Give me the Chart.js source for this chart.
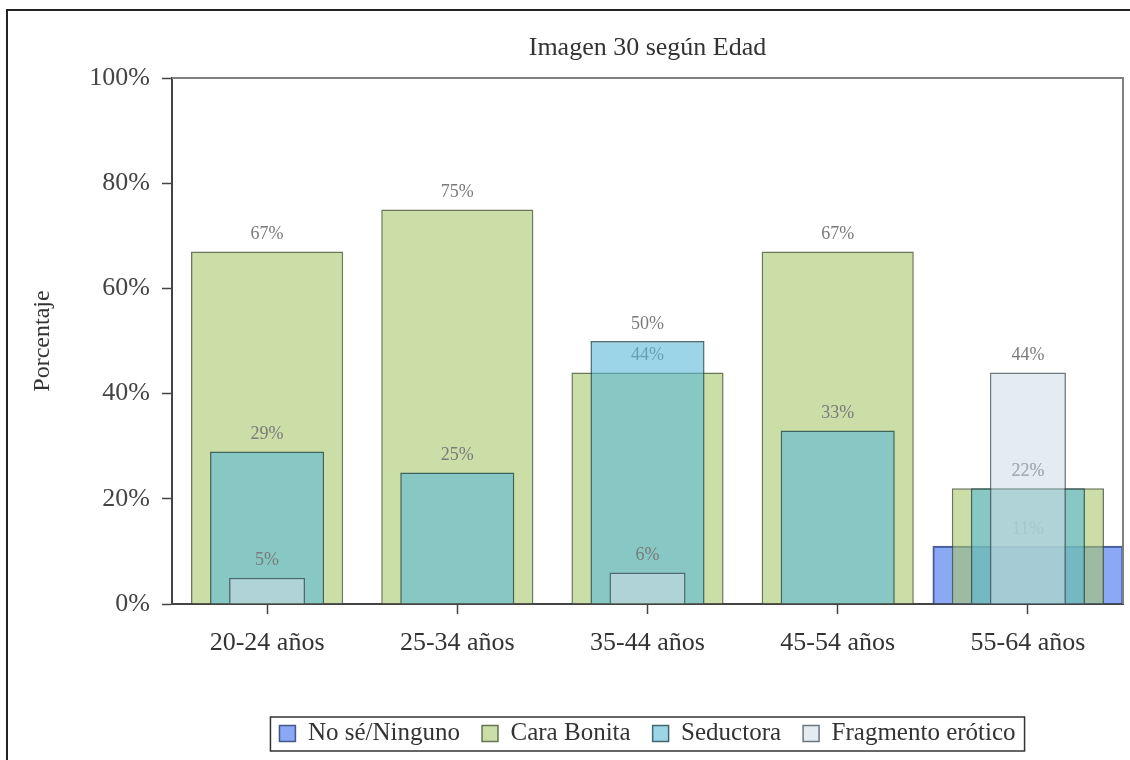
<!DOCTYPE html>
<html>
<head>
<meta charset="utf-8">
<title>Imagen 30 según Edad</title>
<script src="https://cdn.jsdelivr.net/npm/chart.js@4.4.0/dist/chart.umd.min.js"></script>
<style>
    html, body { margin: 0; padding: 0; background: #fff; }
    #wrap { width: 1130px; height: 760px; position: relative; }
</style>
</head>
<body>
<div id="wrap"><canvas id="edadChart"></canvas></div>
<script>
// Datos por grupo de edad (%)
const categorias = ['20-24 años', '25-34 años', '35-44 años', '45-54 años', '55-64 años'];
const noSe = [null, null, null, null, 11];
const caraBonita = [67, 75, 44, 67, 22];
const seductora = [29, 25, 50, 33, 22];
const fragmento = [5, null, 6, null, 44];
const ticksY = [0, 20, 40, 60, 80, 100];

const serif = "'Liberation Serif', 'Times New Roman', serif";

// Etiquetas de valor: se pintan justo despues de cada serie,
// asi las barras siguientes las tapan parcialmente
const etiquetas = {
    id: 'etiquetas',
    afterDatasetDraw(chart, args) {
        const ctx = chart.ctx;
        const ds = chart.data.datasets[args.index];
        ctx.save();
        ctx.font = '18px ' + serif;
        ctx.fillStyle = '#7a7a7a';
        ctx.textAlign = 'center';
        ctx.textBaseline = 'middle';
        args.meta.data.forEach((bar, i) => {
            const v = ds.data[i];
            if (v == null) return;
            ctx.fillText(v + '%', bar.x, bar.y - 17);
        });
        ctx.restore();
    }
};

// Marco del grafico, titulo, recuadro de la leyenda y borde exterior
const marco = {
    id: 'marco',
    afterDraw(chart) {
        const ctx = chart.ctx;
        const a = chart.chartArea;
        ctx.save();

        ctx.strokeStyle = '#808080';
        ctx.lineWidth = 2;
        ctx.beginPath();
        ctx.moveTo(a.left, a.top);
        ctx.lineTo(a.right, a.top);
        ctx.lineTo(a.right, a.bottom);
        ctx.stroke();

        ctx.font = '26px ' + serif;
        ctx.fillStyle = '#333';
        ctx.textAlign = 'center';
        ctx.textBaseline = 'middle';
        ctx.fillText('Imagen 30 según Edad', (a.left + a.right) / 2, 48);

        const boxes = chart.legend.legendHitBoxes;
        if (boxes && boxes.length) {
            const l = Math.min(...boxes.map(b => b.left)) - 9;
            const r = Math.max(...boxes.map(b => b.left + b.width)) + 9;
            const t = Math.min(...boxes.map(b => b.top)) - 4;
            const btm = Math.max(...boxes.map(b => b.top + b.height)) + 5;
            ctx.strokeStyle = '#333';
            ctx.lineWidth = 1.5;
            ctx.strokeRect(l, t, r - l, btm - t);
        }

        ctx.strokeStyle = '#222';
        ctx.lineWidth = 2;
        ctx.beginPath();
        ctx.moveTo(7, 760);
        ctx.lineTo(7, 10);
        ctx.lineTo(1130, 10);
        ctx.stroke();

        ctx.restore();
    }
};

const ctx = document.getElementById('edadChart').getContext('2d');
const edadChart = new Chart(ctx, {
    type: 'bar',
    data: {
        labels: categorias,
        datasets: [{
            label: 'No sé/Ninguno',
            data: noSe,
            backgroundColor: 'rgba(60, 110, 235, 0.6)',
            borderColor: 'rgba(35, 55, 110, 0.8)',
            borderWidth: 1.5,
            barPercentage: 1.0,
            order: 4
        }, {
            label: 'Cara Bonita',
            data: caraBonita,
            backgroundColor: 'rgba(170, 200, 110, 0.6)',
            borderColor: 'rgba(70, 85, 50, 0.8)',
            borderWidth: 1.5,
            barPercentage: 0.8,
            order: 3
        }, {
            label: 'Seductora',
            data: seductora,
            backgroundColor: 'rgba(90, 185, 215, 0.6)',
            borderColor: 'rgba(30, 70, 75, 0.8)',
            borderWidth: 1.5,
            barPercentage: 0.6,
            order: 2
        }, {
            label: 'Fragmento erótico',
            data: fragmento,
            backgroundColor: 'rgba(205, 218, 230, 0.55)',
            borderColor: 'rgba(60, 75, 85, 0.75)',
            borderWidth: 1.5,
            barPercentage: 0.4,
            order: 1
        }]
    },
    options: {
        responsive: true,
        maintainAspectRatio: false,
        animation: false,
        layout: {
            padding: { top: 78, right: 7, bottom: 4, left: 0 }
        },
        datasets: {
            bar: { grouped: false, categoryPercentage: 1.0 }
        },
        scales: {
            x: {
                offset: true,
                grid: {
                    offset: false,
                    drawOnChartArea: false,
                    tickLength: 10,
                    tickColor: '#444',
                    tickWidth: 1.5
                },
                border: { color: '#444', width: 2 },
                ticks: {
                    font: { family: serif, size: 26 },
                    color: '#333',
                    padding: 14
                },
                afterFit: s => { s.height = 95; }
            },
            y: {
                min: 0,
                max: 100,
                afterBuildTicks: s => { s.ticks = ticksY.map(v => ({ value: v })); },
                grid: {
                    drawOnChartArea: false,
                    tickLength: 10,
                    tickColor: '#444',
                    tickWidth: 1.5
                },
                border: { color: '#444', width: 2 },
                ticks: {
                    font: { family: serif, size: 26 },
                    color: '#444',
                    padding: 12,
                    callback: v => v + '%'
                },
                title: {
                    display: true,
                    text: 'Porcentaje',
                    font: { family: serif, size: 24 },
                    color: '#333',
                    padding: { top: 28, bottom: 0 }
                },
                afterFit: s => { s.width = 172; }
            }
        },
        plugins: {
            legend: {
                position: 'bottom',
                fullSize: false,
                labels: {
                    font: { family: serif, size: 25 },
                    color: '#333',
                    boxWidth: 16,
                    boxHeight: 16,
                    padding: 22,
                    sort: (a, b) => a.datasetIndex - b.datasetIndex
                }
            },
            tooltip: { enabled: false }
        }
    },
    plugins: [etiquetas, marco]
});
</script>
</body>
</html>
